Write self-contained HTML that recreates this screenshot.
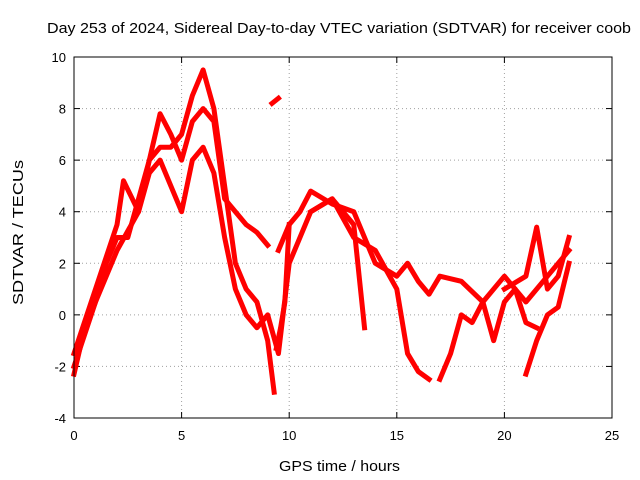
<!DOCTYPE html>
<html><head><meta charset="utf-8"><style>
body{margin:0;background:#fff}
svg{display:block;font-family:"Liberation Sans",sans-serif}
</style></head><body>
<svg id="c" width="640" height="480"></svg>
<script>
const xTicks=[0,5,10,15,20,25];
const yTicks=[-4,-2,0,2,4,6,8,10];
const s1t=[0,0.5,1,1.5,2,2.5,3,3.5,4,4.5,5,5.5,6,6.5,7,7.5,8,8.5,9,9.3];
const s1v=[-2.3,-0.5,0.5,2,3,3,4.5,6,6.5,6.5,7,8.5,9.5,8,5,2,1,0.5,-1,-3];
const s2t=[0,1,2,2.3,3,3.5,4,4.5,5,5.5,6,6.5,7,7.5,8,8.5,9];
const s2v=[-1.5,1,3.5,5.2,4,6,7.8,7,6,7.5,8,7.5,4.5,4,3.5,3.2,2.7];
const s3t=[0,1,2,3,3.5,4,4.5,5,5.5,6,6.5,7,7.5,8,8.5,9,9.5,10,11,12,13,13.5];
const s3v=[-2,0.5,2.5,4,5.5,6,5,4,6,6.5,5.5,3,1,0,-0.5,0,-1.5,2,4,4.5,3.5,-0.5];
const s4t=[9.5,10,10.5,11,12,13,14,15,15.5,16,16.5,17,18,19,20,21,22,23];
const s4v=[2.5,3.5,4,4.8,4.3,4,2,1.5,2,1.3,0.8,1.5,1.3,0.5,1.5,0.5,1.5,2.5];
const s5t=[11,12,13,14,15,15.5,16,16.5];
const s5v=[4,4.5,3,2.5,1,-1.5,-2.2,-2.5];
const s6t=[17,17.5,18,18.5,19,19.5,20,20.5,21,21.5];
const s6v=[-2.5,-1.5,0,-0.3,0.5,-1,0.5,1,-0.3,-0.5];
const s7t=[21,21.5,22,22.5,23];
const s7v=[-2.3,-1,0,0.3,2];
const s8t=[20,21,21.5,22,22.5,23];
const s8v=[1,1.5,3.4,1,1.5,3];
const s9t=[9.2,9.5];
const s9v=[8.2,8.4];
const s10t=[9.4,9.6,9.8,10];
const s10v=[-1.3,-0.5,0.5,3.5];
const series=[[s1t,s1v],[s2t,s2v],[s3t,s3v],[s4t,s4v],[s5t,s5v],[s6t,s6v],[s7t,s7v],[s8t,s8v],[s9t,s9v],[s10t,s10v]];
const L=74,R=612,T=57,B=418;
const X=t=>L+(t-0)/25*(R-L);
const Y=v=>B-(v+4)/14*(B-T);
const svg=document.getElementById('c');
const NS='http://www.w3.org/2000/svg';
function mk(tag,attrs,parent){const e=document.createElementNS(NS,tag);for(const k in attrs)e.setAttribute(k,attrs[k]);(parent||svg).appendChild(e);return e;}
xTicks.forEach(t=>{
  if(t>0&&t<25){const g=mk('line',{x1:X(t),x2:X(t),y1:T,y2:B,stroke:'#a0a0a0','stroke-dasharray':'1,3'});
  
  }
  mk('line',{x1:X(t),x2:X(t),y1:B,y2:B-6,stroke:'#000'});
  mk('line',{x1:X(t),x2:X(t),y1:T,y2:T+6,stroke:'#000'});
  const tx=mk('text',{x:X(t),y:B+22,'text-anchor':'middle','font-size':13});
  tx.textContent=t;
  
  
});
yTicks.forEach(v=>{
  if(v>-4&&v<10){const g=mk('line',{x1:L,x2:R,y1:Y(v),y2:Y(v),stroke:'#a0a0a0','stroke-dasharray':'1,3'});
  
  }
  mk('line',{x1:L,x2:L+6,y1:Y(v),y2:Y(v),stroke:'#000'});
  mk('line',{x1:R,x2:R-6,y1:Y(v),y2:Y(v),stroke:'#000'});
  const tx=mk('text',{x:L-8,y:Y(v)+5,'text-anchor':'end','font-size':13});
  tx.textContent=v;
  
  
});
series.forEach(([ts,vs])=>{
  const p=mk('polyline',{points:ts.map((t,i)=>X(t)+','+Y(vs[i])).join(' '),fill:'none',stroke:'#f00','stroke-width':5,'stroke-linejoin':'round','stroke-linecap':'square'});
  
  
});
const fr=mk('rect',{x:L,y:T,width:R-L,height:B-T,fill:'none',stroke:'#000'});


const ti=mk('text',{x:47,y:33,'font-size':15,textLength:584,lengthAdjust:'spacingAndGlyphs'});
ti.textContent='Day 253 of 2024, Sidereal Day-to-day VTEC variation (SDTVAR) for receiver coob';


const xl=mk('text',{x:279,y:471,'font-size':15,textLength:121,lengthAdjust:'spacingAndGlyphs'});
xl.textContent='GPS time / hours';


const yl=mk('text',{x:0,y:0,'font-size':15,textLength:145,lengthAdjust:'spacingAndGlyphs',transform:'translate(23 305) rotate(-90)'});
yl.textContent='SDTVAR / TECUs';


</script>
</body></html>
